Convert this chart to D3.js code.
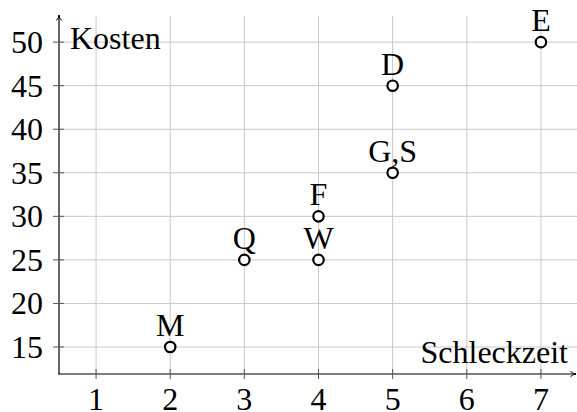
<!DOCTYPE html>
<html>
<head>
<meta charset="utf-8">
<script src="https://cdn.jsdelivr.net/npm/d3@7"></script>
<style>
  body { margin: 0; background: #fff; }
  text { font-family: "Liberation Serif", "DejaVu Serif", serif; fill: #000; }
</style>
</head>
<body>
<div class="chart"></div>
<script>
// data
const labels = ["M", "Q", "W", "F", "G,S", "D", "E"];
const zeit = [2, 3, 4, 4, 5, 5, 7];
const kosten = [15, 25, 25, 30, 35, 45, 50];
const xTicks = [1, 2, 3, 4, 5, 6, 7];
const yTicks = [15, 20, 25, 30, 35, 40, 45, 50];

const width = 577, height = 412;
const fs = 32;
const svg = d3.select(".chart").append("svg")
    .attr("width", width)
    .attr("height", height);

const x = d3.scaleLinear().domain([0.5, 7.5]).range([59, 578]);
const y = d3.scaleLinear().domain([11.9, 53]).range([374, 16]);

const x0 = x.range()[0];
const y0 = y.range()[0];

// grid
const grid = svg.append("g").attr("stroke", "#c8c8c8").attr("stroke-width", 1);
grid.selectAll(".vg").data(xTicks).enter().append("line")
    .attr("x1", d => x(d)).attr("x2", d => x(d))
    .attr("y1", y.range()[1]).attr("y2", y0);
grid.selectAll(".hg").data(yTicks).enter().append("line")
    .attr("x1", x0).attr("x2", width)
    .attr("y1", d => y(d)).attr("y2", d => y(d));

// axes with arrows
const defs = svg.append("defs");
defs.append("marker")
    .attr("id", "arrow")
    .attr("viewBox", "0 0 10 10")
    .attr("refX", 9).attr("refY", 5)
    .attr("markerWidth", 7).attr("markerHeight", 7)
    .attr("markerUnits", "userSpaceOnUse")
    .attr("orient", "auto")
    .append("path")
    .attr("d", "M1,1 Q5,5 9,5 Q5,5 1,9")
    .attr("fill", "none").attr("stroke", "#000").attr("stroke-width", 1.4);

svg.append("line")
    .attr("x1", x0 - 0.5).attr("x2", 576)
    .attr("y1", y0).attr("y2", y0)
    .attr("stroke", "#000").attr("stroke-width", 1.2)
    .attr("marker-end", "url(#arrow)");
svg.append("line")
    .attr("x1", x0).attr("x2", x0)
    .attr("y1", y0 + 0.5).attr("y2", 15)
    .attr("stroke", "#000").attr("stroke-width", 1.2)
    .attr("marker-end", "url(#arrow)");

// tick marks
svg.append("g").selectAll("line").data(xTicks).enter().append("line")
    .attr("x1", d => x(d)).attr("x2", d => x(d))
    .attr("y1", y0 - 5).attr("y2", y0 + 5)
    .attr("stroke", "#555").attr("stroke-width", 1);
svg.append("g").selectAll("line").data(yTicks).enter().append("line")
    .attr("x1", x0 - 6).attr("x2", x0 + 5)
    .attr("y1", d => y(d)).attr("y2", d => y(d))
    .attr("stroke", "#555").attr("stroke-width", 1);

// tick labels
svg.append("g").selectAll("text").data(xTicks).enter().append("text")
    .attr("x", d => x(d)).attr("y", 410)
    .attr("text-anchor", "middle")
    .attr("font-size", fs)
    .text(d => d);
svg.append("g").selectAll("text").data(yTicks).enter().append("text")
    .attr("x", 43).attr("y", d => y(d) + 11)
    .attr("text-anchor", "end")
    .attr("font-size", fs)
    .text(d => d);

// axis labels
svg.append("text")
    .attr("x", 70).attr("y", 49)
    .attr("font-size", fs)
    .text("Kosten");
svg.append("text")
    .attr("x", 568).attr("y", 363)
    .attr("text-anchor", "end")
    .attr("font-size", fs)
    .text("Schleckzeit");

// points
const pts = labels.map((l, i) => ({ label: l, x: zeit[i], y: kosten[i] }));
svg.append("g").selectAll("circle").data(pts).enter().append("circle")
    .attr("cx", d => x(d.x)).attr("cy", d => y(d.y))
    .attr("r", 5.2)
    .attr("fill", "#fff").attr("stroke", "#000").attr("stroke-width", 2.2);
svg.append("g").selectAll("text").data(pts).enter().append("text")
    .attr("x", d => x(d.x)).attr("y", d => y(d.y) - 11)
    .attr("text-anchor", "middle")
    .attr("font-size", fs)
    .text(d => d.label);
</script>
</body>
</html>
